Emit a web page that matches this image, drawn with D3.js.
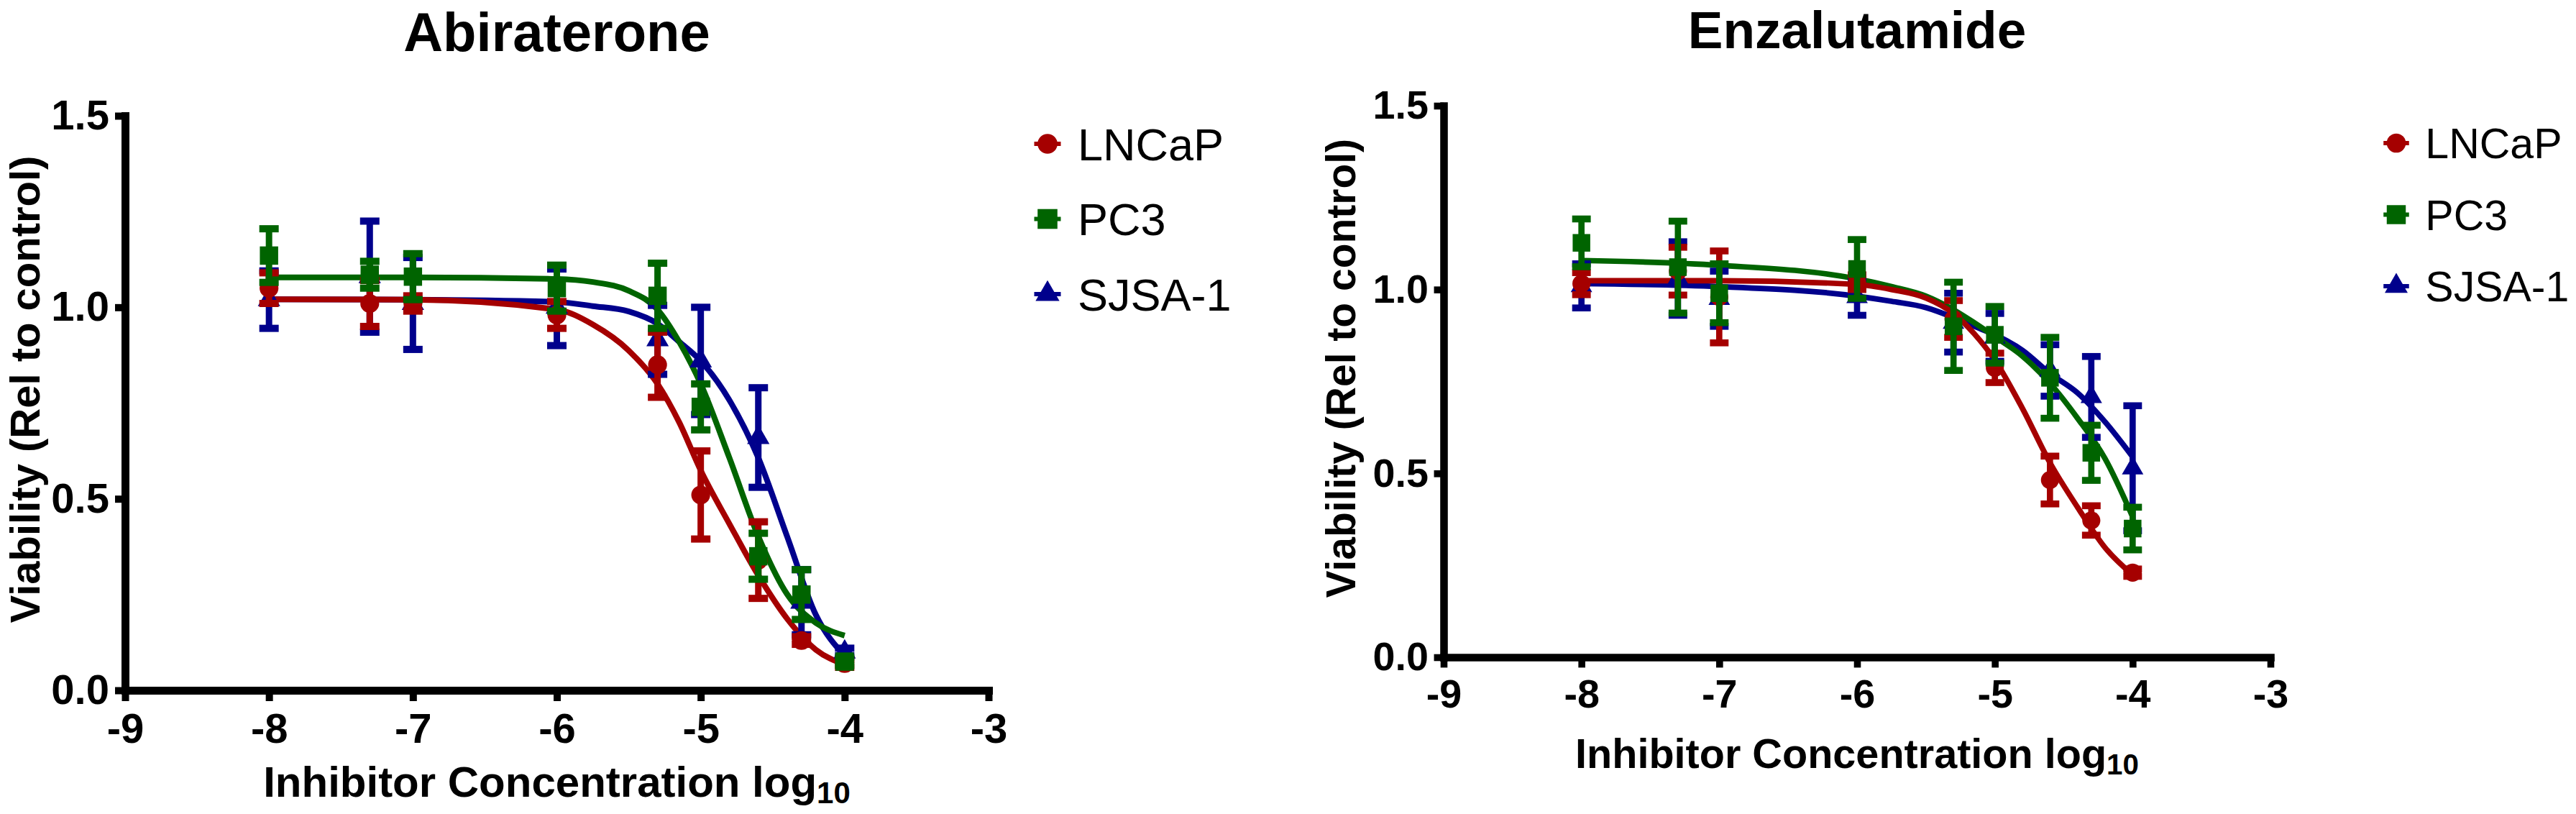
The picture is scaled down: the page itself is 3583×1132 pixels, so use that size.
<!DOCTYPE html>
<html>
<head>
<meta charset="utf-8">
<script src="https://cdn.jsdelivr.net/npm/d3@7"></script>
<style>
  body { margin: 0; background: #fff; }
  svg { display: block; }
  text { font-family: "Liberation Sans", Arial, sans-serif; }
</style>
</head>
<body>
<script>
var w = 3583;
var h = 1132;

// shared categories & ticks
var cellLines = ["LNCaP", "PC3", "SJSA-1"];
var logConc = [-8, -7.3, -7, -6, -5.3, -5, -4.6, -4.3, -4];
var xTicks = [-9, -8, -7, -6, -5, -4, -3];
var yTicks = [0, 0.5, 1.0, 1.5];
var fitX = [-8, -7, -6, -5.75, -5.5, -5.3, -5.15, -5, -4.8, -4.6, -4.4, -4.2, -4];

// Abiraterone (means, SEM, fitted curve read at fitX)
var abiLNCaP = [1.05, 1.01, 1.01, 0.98, 0.85, 0.51, 0.34, 0.13, 0.07];
var abiLNCaPErr = [0.04, 0.06, 0.02, 0.035, 0.085, 0.115, 0.10, 0.01, 0.01];
var abiPC3 = [1.135, 1.085, 1.08, 1.05, 1.03, 0.74, 0.35, 0.25, 0.075];
var abiPC3Err = [0.07, 0.035, 0.06, 0.06, 0.085, 0.06, 0.06, 0.065, 0.01];
var abiSJSA = [1.02, 1.08, 1.01, 1.00, 0.915, 0.86, 0.66, 0.23, 0.10];
var abiSJSAErr = [0.075, 0.145, 0.12, 0.10, 0.09, 0.14, 0.13, 0.085, 0.01];
var abiFitLNCaP = [1.021, 1.02, 0.994, 0.955, 0.887, 0.80, 0.70, 0.574, 0.434, 0.30, 0.187, 0.106, 0.068];
var abiFitPC3 = [1.078, 1.078, 1.074, 1.066, 1.043, 0.994, 0.91, 0.80, 0.606, 0.402, 0.251, 0.176, 0.143];
var abiFitSJSA = [1.021, 1.02, 1.014, 1.003, 0.989, 0.957, 0.91, 0.86, 0.757, 0.607, 0.402, 0.197, 0.09];

// Enzalutamide
var enzLNCaP = [1.016, 1.05, 0.98, 1.02, 0.92, 0.787, 0.482, 0.372, 0.23];
var enzLNCaPErr = [0.03, 0.065, 0.125, 0.02, 0.05, 0.04, 0.065, 0.04, 0.01];
var enzPC3 = [1.127, 1.061, 0.99, 1.056, 0.90, 0.877, 0.76, 0.556, 0.35];
var enzPC3Err = [0.065, 0.125, 0.08, 0.08, 0.12, 0.077, 0.11, 0.075, 0.058];
var enzSJSA = [1.01, 1.03, 0.975, 0.98, 0.91, 0.87, 0.78, 0.708, 0.514];
var enzSJSAErr = [0.06, 0.10, 0.075, 0.05, 0.08, 0.065, 0.07, 0.11, 0.17];
var enzFitLNCaP = [1.024, 1.024, 1.014, 1.0, 0.977, 0.935, 0.88, 0.808, 0.677, 0.529, 0.408, 0.298, 0.224];
var enzFitPC3 = [1.079, 1.066, 1.029, 1.008, 0.982, 0.945, 0.91, 0.872, 0.819, 0.745, 0.65, 0.54, 0.382];
var enzFitSJSA = [1.016, 1.008, 0.982, 0.968, 0.951, 0.924, 0.90, 0.877, 0.835, 0.772, 0.719, 0.64, 0.545];

var colors = ["#A50000", "#006400", "#00008C"];
var shapes = [d3.symbolCircle, d3.symbolSquare, d3.symbolTriangle];

var svg = d3.select("body")
    .append("svg")
    .attr("width", w)
    .attr("height", h);

svg.append("rect").attr("width", w).attr("height", h).attr("fill", "#fff");

var panels = [
    {title: "Abiraterone", means: [abiLNCaP, abiPC3, abiSJSA], errs: [abiLNCaPErr, abiPC3Err, abiSJSAErr],
     fits: [abiFitLNCaP, abiFitPC3, abiFitSJSA],
     left: 174, right: 1375, top: 161, bottom: 960, k: 1,
     titleY: 71, titleSize: 76, yTitleX: 55, yTitleSize: 58, xTitleY: 1108,
     legX: 1457, legY: 200, legStep: 104.5, legSize: 63},
    {title: "Enzalutamide", means: [enzLNCaP, enzPC3, enzSJSA], errs: [enzLNCaPErr, enzPC3Err, enzSJSAErr],
     fits: [enzFitLNCaP, enzFitPC3, enzFitSJSA],
     left: 2008, right: 3158, top: 147, bottom: 914, k: 0.96,
     titleY: 67, titleSize: 73, yTitleX: 1885, yTitleSize: 57, xTitleY: 1068,
     legX: 3333, legY: 199, legStep: 99.5, legSize: 59}
];

panels.forEach(function(p) {
    var k = p.k;
    var xScale = d3.scaleLinear().domain([-9, -3]).range([p.left, p.right]);
    var yScale = d3.scaleLinear().domain([0, 1.5]).range([p.bottom, p.top]);
    var g = svg.append("g");

//axes
    var xAxis = d3.axisBottom(xScale).tickValues(xTicks).tickSize(15 * k).tickSizeOuter(0)
        .tickPadding(17 * k).tickFormat(d3.format("d"));
    var yAxis = d3.axisLeft(yScale).tickValues(yTicks).tickSize(14 * k).tickSizeOuter(0)
        .tickPadding(8 * k).tickFormat(d3.format(".1f"));

    var gx = g.append("g")
        .attr("transform", "translate(0," + p.bottom + ")")
        .call(xAxis);
    var gy = g.append("g")
        .attr("transform", "translate(" + p.left + ",0)")
        .call(yAxis);

    [gx, gy].forEach(function(a) {
        a.select(".domain").attr("stroke", "#000").attr("stroke-width", 11 * k)
            .attr("stroke-linecap", "square");
        a.selectAll(".tick line").attr("stroke", "#000").attr("stroke-width", 10 * k);
        a.selectAll(".tick text").attr("fill", "#000")
            .attr("font-size", 58 * k).attr("font-weight", "bold")
            .style("font-family", "'Liberation Sans', Arial, sans-serif");
    });
    gx.selectAll(".tick text").text(function(d) { return d3.format("d")(d).replace("−", "-"); });

//curves
    var line = d3.line()
        .x(function(d) { return xScale(d[0]); })
        .y(function(d) { return yScale(d[1]); })
        .curve(d3.curveMonotoneX);

    [2, 1, 0].forEach(function(s) {
        g.append("path")
            .datum(d3.zip(fitX, p.fits[s]))
            .attr("fill", "none")
            .attr("stroke", colors[s])
            .attr("stroke-width", 8 * k)
            .attr("d", line);
    });

//error bars & points
    [2, 0, 1].forEach(function(s) {
        var pts = logConc.map(function(x, i) { return {x: x, m: p.means[s][i], e: p.errs[s][i]}; });
        var sg = g.append("g").attr("fill", colors[s]).attr("stroke", colors[s]);

        sg.selectAll(".stem").data(pts).enter().append("line")
            .attr("x1", d => xScale(d.x)).attr("x2", d => xScale(d.x))
            .attr("y1", d => yScale(d.m - d.e)).attr("y2", d => yScale(d.m + d.e))
            .attr("stroke-width", 9 * k);

        [-1, 1].forEach(function(sign) {
            sg.selectAll(".cap" + sign).data(pts).enter().append("line")
                .attr("x1", d => xScale(d.x) - 13.5 * k).attr("x2", d => xScale(d.x) + 13.5 * k)
                .attr("y1", d => yScale(d.m + sign * d.e)).attr("y2", d => yScale(d.m + sign * d.e))
                .attr("stroke-width", 10 * k);
        });

        sg.selectAll(".pt").data(pts).enter().append("path")
            .attr("transform", d => "translate(" + xScale(d.x) + "," + yScale(d.m) + ")")
            .attr("stroke", "none")
            .attr("d", d3.symbol().type(shapes[s]).size([540, 650, 420][s] * k * k));
    });

//titles
    g.append("text")
        .text(p.title)
        .attr("x", xScale(-6))
        .attr("y", p.titleY)
        .attr("text-anchor", "middle")
        .attr("font-size", p.titleSize)
        .attr("font-weight", "bold");

    var xt = g.append("text")
        .attr("x", xScale(-6))
        .attr("y", p.xTitleY)
        .attr("text-anchor", "middle")
        .attr("font-size", 60 * k)
        .attr("font-weight", "bold");
    xt.append("tspan").text("Inhibitor Concentration log");
    xt.append("tspan").text("10").attr("font-size", 42 * k).attr("dy", 9 * k);

    g.append("text")
        .text("Viability (Rel to control)")
        .attr("transform", "translate(" + p.yTitleX + "," + ((p.top + p.bottom) / 2 - 19 * k) + ") rotate(-90)")
        .attr("text-anchor", "middle")
        .attr("font-size", p.yTitleSize)
        .attr("font-weight", "bold");

//legend
    cellLines.forEach(function(name, s) {
        var ly = p.legY + s * p.legStep;
        g.append("line")
            .attr("x1", p.legX - 18.5 * k).attr("x2", p.legX + 18.5 * k)
            .attr("y1", ly).attr("y2", ly)
            .attr("stroke", colors[s]).attr("stroke-width", 6 * k);
        g.append("path")
            .attr("transform", "translate(" + p.legX + "," + ly + ")")
            .attr("fill", colors[s])
            .attr("d", d3.symbol().type(shapes[s]).size([600, 760, 480][s] * k * k));
        g.append("text")
            .text(name)
            .attr("x", p.legX + 42 * k)
            .attr("y", ly + 0.36 * p.legSize)
            .attr("font-size", p.legSize);
    });
});
</script>
</body>
</html>
